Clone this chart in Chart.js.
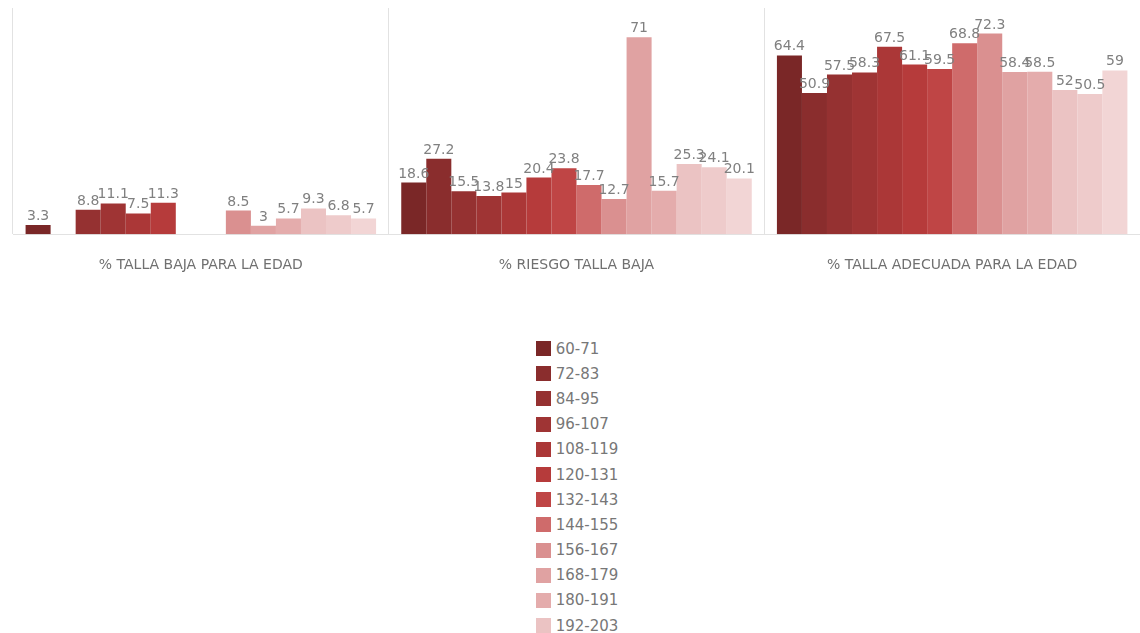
<!DOCTYPE html>
<html>
<head>
<meta charset="utf-8">
<script src="https://cdn.jsdelivr.net/npm/chart.js@4/dist/chart.umd.min.js"></script>
<style>
  html, body { margin: 0; padding: 0; background: #fff; overflow: hidden; width: 1140px; height: 633px; }
  #wrap { position: relative; width: 1140px; height: 315px; }
  #legend { position: absolute; left: 7px; top: 336px; width: 1140px; display: flex; justify-content: center; }
  #legend ul { list-style: none; margin: 0; padding: 0; }
  #legend li { display: flex; align-items: center; height: 25.2px; font: 15px "DejaVu Sans", sans-serif; color: #777; }
  #legend li span.box { display: inline-block; width: 15px; height: 15px; margin-right: 5px; }
</style>
</head>
<body>
<div id="wrap"><canvas id="c" width="1140" height="315"></canvas></div>
<div id="legend"></div>
<script>
const categories = ["% TALLA BAJA PARA LA EDAD", "% RIESGO TALLA BAJA", "% TALLA ADECUADA PARA LA EDAD"];
const seriesNames = ["60-71", "72-83", "84-95", "96-107", "108-119", "120-131", "132-143", "144-155", "156-167", "168-179", "180-191", "192-203", "204-215", "216-227"];
const tallaBaja    = [3.3, null, 8.8, 11.1, 7.5, 11.3, null, null, 8.5, 3, 5.7, 9.3, 6.8, 5.7];
const riesgo       = [18.6, 27.2, 15.5, 13.8, 15, 20.4, 23.8, 17.7, 12.7, 71, 15.7, 25.3, 24.1, 20.1];
const adecuada     = [64.4, 50.9, 57.5, 58.3, 67.5, 61.1, 59.5, 68.8, 72.3, 58.4, 58.5, 52, 50.5, 59];
const seriesColors = ["#7a2727", "#8a2d2d", "#953131", "#9f3434", "#ab3737", "#b63b3b", "#bf4545", "#cf6b6b", "#da9090", "#e0a2a2", "#e4acac", "#ebc3c3", "#eecbcb", "#f2d5d5"];

const datasets = seriesNames.map((name, i) => ({
  label: name,
  data: [tallaBaja[i], riesgo[i], adecuada[i]],
  backgroundColor: seriesColors[i],
  borderWidth: 0,
  barPercentage: 1,
  categoryPercentage: 0.933
}));

const valueLabels = {
  id: 'valueLabels',
  afterDatasetsDraw(chart) {
    const ctx = chart.ctx;
    ctx.save();
    ctx.font = '14px "DejaVu Sans", sans-serif';
    ctx.fillStyle = '#808080';
    ctx.textAlign = 'center';
    ctx.textBaseline = 'alphabetic';
    chart.data.datasets.forEach((ds, di) => {
      const meta = chart.getDatasetMeta(di);
      meta.data.forEach((bar, j) => {
        const v = ds.data[j];
        if (v === null || v === undefined) return;
        ctx.fillText(String(v), bar.x, bar.y - 5);
      });
    });
    ctx.restore();
  }
};

const chart = new Chart(document.getElementById('c'), {
  type: 'bar',
  data: { labels: categories, datasets },
  options: {
    responsive: false,
    animation: false,
    layout: { padding: { left: 13, right: 0, top: 8, bottom: 18 } },
    plugins: { legend: { display: false }, tooltip: { enabled: false } },
    scales: {
      x: {
        grid: { display: true, color: '#e2e2e2', drawTicks: false, offset: true },
        border: { display: true, color: '#e2e2e2' },
        ticks: { padding: 23, color: '#707070', font: { family: '"DejaVu Sans", sans-serif', size: 14 } }
      },
      y: { display: false, min: 0, max: 81.5 }
    }
  },
  plugins: [valueLabels]
});

// HTML legend built from the chart's own legend items
const items = chart.options.plugins.legend.labels.generateLabels(chart);
const ul = document.createElement('ul');
items.forEach(it => {
  const li = document.createElement('li');
  const box = document.createElement('span');
  box.className = 'box';
  box.style.background = it.fillStyle;
  li.appendChild(box);
  li.appendChild(document.createTextNode(it.text));
  ul.appendChild(li);
});
document.getElementById('legend').appendChild(ul);
</script>
</body>
</html>
